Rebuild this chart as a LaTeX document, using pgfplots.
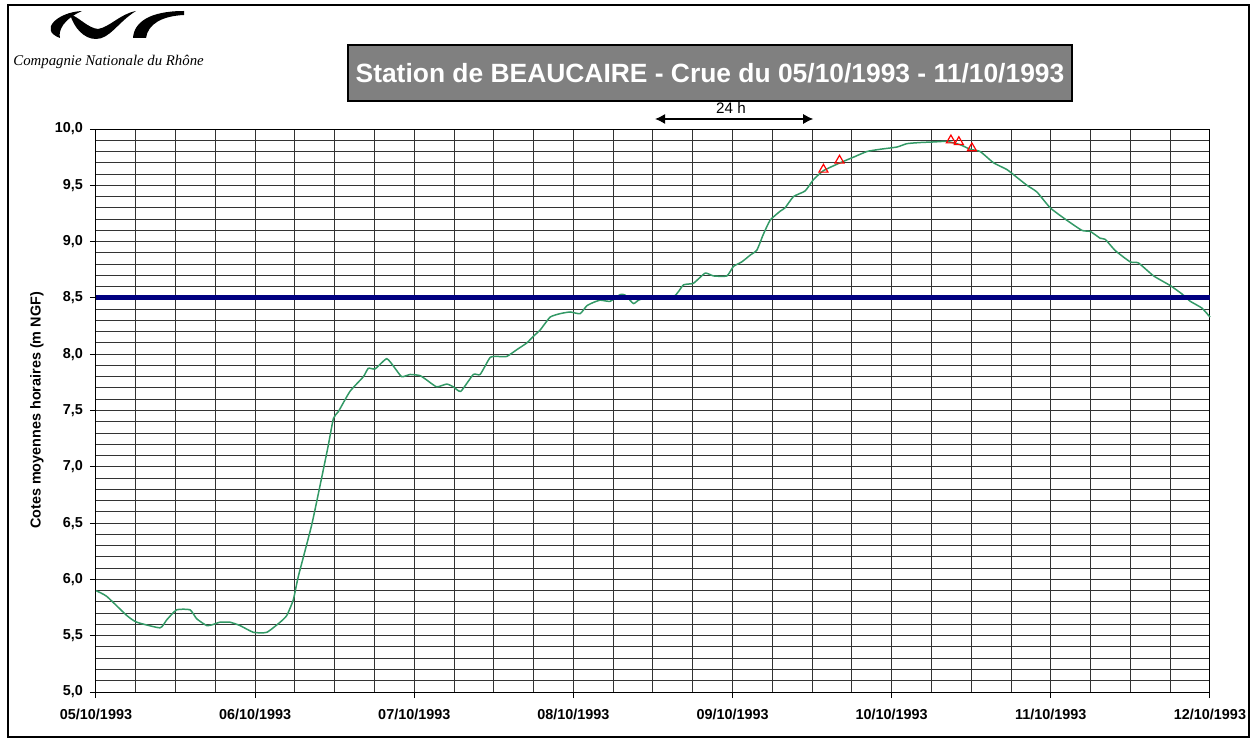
\documentclass[border=0pt]{standalone}
\usepackage{fontspec}
\setmainfont{Liberation Sans}
\newfontfamily\logofont{Liberation Serif}
\usepackage{pgfplots}
\pgfplotsset{compat=1.18}
\usetikzlibrary{arrows.meta}

\definecolor{seagreen}{HTML}{339966}
\definecolor{navyline}{HTML}{000080}
\definecolor{titlegray}{HTML}{808080}
\newcommand{\lbl}{\bfseries\fontsize{7.2}{8.6}\selectfont}

\begin{document}
\begin{tikzpicture}
\begin{scope}[x=0.5pt, y=-0.5pt, yshift=370pt]
\path (0,0) rectangle (1255,740);
\draw[line width=0.7pt] (8,5) rectangle (1249,737);
% logo
\fill (82,11) .. controls (58,12) and (38,30) .. (60,38)
      .. controls (58,30) and (64,19) .. (82,11) -- cycle;
\fill (70,14) .. controls (80,18) and (88,28) .. (98,29)
      .. controls (110,27) and (120,14) .. (136,11)
      .. controls (118,22) and (110,39) .. (96,39)
      .. controls (84,39) and (74,28) .. (70,14) -- cycle;
\fill (133,38) .. controls (134,22) and (150,11) .. (184,11)
      -- (184,15) .. controls (162,16) and (148,24) .. (146,38) -- cycle;
\node[anchor=west, inner sep=0] at (13,62)
  {\logofont\itshape\fontsize{7.4}{9}\selectfont Compagnie Nationale du Rhône};
% titre
\node[fill=titlegray, draw=black, line width=0.8pt, minimum width=362pt,
      minimum height=28pt, inner sep=0, text=white,
      font=\bfseries\fontsize{13.2}{15.8}\selectfont] at (710,73)
  {Station de BEAUCAIRE - Crue du 05/10/1993 - 11/10/1993};
\end{scope}

\begin{axis}[
  at={(48pt,24pt)}, anchor=south west,
  scale only axis, width=557pt, height=281.5pt,
  xmin=0, xmax=7, ymin=5, ymax=10,
  xtick={0,...,7},
  xticklabels={05/10/1993,06/10/1993,07/10/1993,08/10/1993,09/10/1993,10/10/1993,11/10/1993,12/10/1993},
  minor x tick num=3,
  ytick={5,5.5,...,10},
  minor y tick num=4,
  grid=both,
  major grid style={black!80, line width=0.5pt},
  minor grid style={black!80, line width=0.5pt},
  tick align=outside, tick pos=left,
  major tick length=3pt, minor tick length=0pt,
  axis line style={black, line width=0.5pt},
  tick style={black, line width=0.5pt},
  /pgf/number format/assume math mode=true,
  yticklabel style={/pgf/number format/.cd, use comma, fixed, fixed zerofill, precision=1},
  tick label style={font=\lbl},
  xticklabel style={yshift=-2pt},
  ylabel={Cotes moyennes horaires (m NGF)},
  ylabel style={font=\lbl, at={(axis description cs:-0.053,0.5)}, anchor=center},
  clip=false,
]
% cotes moyennes horaires
\addplot[seagreen, line width=0.75pt, smooth, tension=0.3] coordinates {
(0,5.90) (0.067,5.85) (0.193,5.68) (0.256,5.62) (0.402,5.57) (0.444,5.64)
(0.507,5.73) (0.591,5.73) (0.633,5.65) (0.696,5.59) (0.737,5.60) (0.779,5.62)
(0.842,5.62) (0.905,5.59) (0.989,5.53) (1.073,5.53) (1.157,5.62) (1.199,5.68)
(1.240,5.82) (1.272,6.03) (1.358,6.50) (1.454,7.15) (1.492,7.43) (1.523,7.49)
(1.596,7.67) (1.680,7.80) (1.711,7.875) (1.754,7.87) (1.827,7.96) (1.879,7.875)
(1.921,7.80) (1.974,7.82) (2.036,7.81) (2.079,7.77) (2.141,7.71) (2.204,7.735)
(2.246,7.71) (2.292,7.67) (2.371,7.82) (2.414,7.82) (2.476,7.97) (2.519,7.98)
(2.581,7.98) (2.644,8.04) (2.707,8.10) (2.749,8.16) (2.791,8.215) (2.854,8.33)
(2.916,8.36) (2.979,8.375) (3.042,8.36) (3.084,8.43) (3.126,8.46) (3.168,8.48)
(3.231,8.47) (3.294,8.53) (3.325,8.525) (3.377,8.45) (3.409,8.48) (3.461,8.50)
(3.629,8.51) (3.691,8.615) (3.754,8.63) (3.828,8.72) (3.880,8.695) (3.964,8.695)
(4.006,8.78) (4.058,8.82) (4.111,8.88) (4.153,8.925) (4.192,9.06) (4.236,9.19)
(4.299,9.27) (4.330,9.30) (4.383,9.40) (4.456,9.45) (4.508,9.55) (4.571,9.63)
(4.676,9.70) (4.760,9.75) (4.844,9.80) (4.927,9.82) (5.033,9.84) (5.096,9.87)
(5.179,9.88) (5.263,9.885) (5.347,9.89) (5.431,9.86) (5.493,9.82) (5.556,9.80)
(5.640,9.70) (5.724,9.64) (5.787,9.57) (5.850,9.50) (5.913,9.44) (5.996,9.30)
(6.090,9.20) (6.195,9.10) (6.248,9.09) (6.310,9.03) (6.342,9.02) (6.405,8.92)
(6.499,8.82) (6.551,8.81) (6.646,8.695) (6.750,8.61) (6.824,8.535) (6.876,8.47)
(6.949,8.41) (7.0,8.33)
};
% seuil 8,5
\addplot[navyline, line width=2.5pt] coordinates {(0,8.5) (7,8.5)};
% points releves
\addplot[only marks, mark=triangle, mark size=2.6pt, red, mark options={line width=0.6pt}]
  coordinates {(4.571,9.64) (4.672,9.72) (5.372,9.90) (5.422,9.885) (5.504,9.83)};
% 24 h
\draw[{Latex[length=5pt,width=5pt]}-{Latex[length=5pt,width=5pt]}, line width=0.6pt]
  (axis cs:3.513,10.089) -- (axis cs:4.507,10.089);
\node[font=\fontsize{7.6}{9}\selectfont, inner sep=0] at (axis cs:3.99,10.185) {24 h};
\end{axis}
\end{tikzpicture}
\end{document}
